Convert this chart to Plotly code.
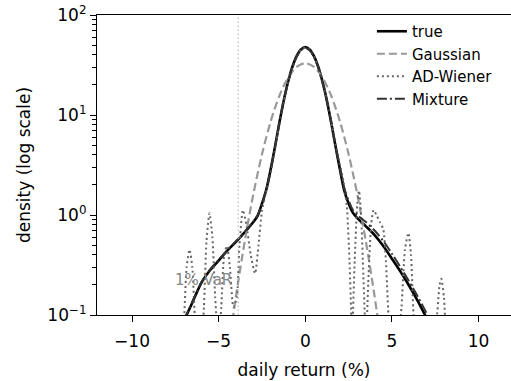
import plotly.graph_objects as go

# ---------------- data ----------------
X_GRID = [-7.5, -7, -6.5, -6, -5.5, -5, -4.5, -4, -3.5, -3, -2.75, -2.5, -2.25, -2,
          -1.75, -1.5, -1.25, -1, -0.75, -0.5, -0.25, 0, 0.25, 0.5, 0.75, 1, 1.25,
          1.5, 1.75, 2, 2.25, 2.5, 2.75, 3, 3.5, 4, 4.5, 5, 5.5, 6, 6.5, 7, 7.5]

TRUE_DENS = [0.06, 0.088, 0.135, 0.21, 0.28, 0.35, 0.44, 0.54, 0.67, 0.85, 0.98, 1.3,
             1.8, 2.85, 4.8, 8.3, 13.8, 21.3, 30.2, 38.8, 45.2, 47.8, 45.2, 38.8,
             30.2, 21.3, 13.8, 8.3, 4.8, 2.85, 1.75, 1.3, 1.05, 0.93, 0.77, 0.63,
             0.49, 0.365, 0.27, 0.195, 0.137, 0.093, 0.062]

MIX_DENS = [0.062, 0.09, 0.138, 0.212, 0.285, 0.355, 0.445, 0.545, 0.68, 0.86, 1.0,
            1.3, 1.8, 2.85, 4.8, 8.3, 13.7, 21.0, 29.8, 38.2, 44.3, 46.8, 44.3, 38.2,
            29.8, 21.0, 13.7, 8.3, 4.8, 2.9, 1.85, 1.4, 1.12, 1.0, 0.85, 0.7, 0.55,
            0.41, 0.3, 0.215, 0.152, 0.104, 0.07]

GAUSS_X = [-5, -4.5, -4, -3.5, -3, -2.5, -2, -1.5, -1, -0.5, 0,
           0.5, 1, 1.5, 2, 2.5, 3, 3.5, 4, 4.5, 5]
GAUSS_DENS = [0.0074, 0.0367, 0.153, 0.539, 1.61, 4.05, 8.61, 15.5, 23.6, 30.3, 33.0,
              30.3, 23.6, 15.5, 8.61, 4.05, 1.61, 0.539, 0.153, 0.0367, 0.0074]

ADW_X = [-8.5, -7.2, -7.0, -6.85, -6.68, -6.52, -6.38, -6.2, -6.0, -5.85, -5.7, -5.53,
         -5.36, -5.2, -5.0, -4.85, -4.68, -4.52, -4.35, -4.15, -3.95, -3.8, -3.6,
         -3.4, -3.15, -2.9, -2.7, -2.5, -2.3, -2.0, -1.75, -1.5, -1.25, -1.0, -0.75,
         -0.5, -0.25, 0, 0.25, 0.5, 0.75, 1.0, 1.25, 1.5, 1.75, 2.0, 2.2, 2.4, 2.55,
         2.7, 2.85, 3.0, 3.1, 3.22, 3.35, 3.5, 3.65, 3.8, 3.94, 4.1, 4.3, 4.5, 4.65,
         4.8, 5.0, 5.3, 5.55, 5.75, 5.95, 6.1, 6.25, 6.5, 7.2, 7.55, 7.75, 7.85, 8.0,
         8.15, 8.5]
ADW_DENS = [0.04, 0.04, 0.09, 0.3, 0.45, 0.3, 0.1, 0.04, 0.05, 0.12, 0.55, 1.04,
            0.6, 0.15, 0.05, 0.12, 0.4, 0.49, 0.3, 0.12, 0.15, 0.5, 1.12,
            0.8, 0.4, 0.26, 0.5, 1.1, 1.6, 2.6, 4.6, 8.0, 13.5, 21.0, 30.0,
            38.5, 45.0, 47.0, 45.0, 38.5, 30.0, 21.0, 13.8, 8.5, 5.0, 3.2, 2.2, 1.2, 0.35,
            0.07, 0.35, 1.3, 1.75, 1.0, 0.25, 0.06, 0.25, 0.8, 1.12, 1.0, 0.85, 0.72, 0.35,
            0.1, 0.04, 0.05, 0.12, 0.45, 0.66, 0.4, 0.1, 0.04, 0.04, 0.08, 0.2, 0.23, 0.15,
            0.06, 0.04]

VAR_1PCT = -3.87
X_TICKS = [-10, -5, 0, 5, 10]
Y_TICKS = [0.1, 1, 10, 100]
Y_TICK_TEXT = ["10<sup>−1</sup>", "10<sup>0</sup>", "10<sup>1</sup>", "10<sup>2</sup>"]
Y_MINOR = [m * 10 ** k for k in (-1, 0, 1) for m in range(2, 10)]

FONT = "DejaVu Sans"

fig = go.Figure()
fig.add_trace(go.Scatter(x=X_GRID, y=TRUE_DENS, mode="lines", name="true",
                         line=dict(color="black", width=2.6, shape="spline", smoothing=0.8)))
fig.add_trace(go.Scatter(x=GAUSS_X, y=GAUSS_DENS, mode="lines", name="Gaussian",
                         line=dict(color="#999999", width=2.2, dash="8px,4px",
                                   shape="spline", smoothing=0.8)))
fig.add_trace(go.Scatter(x=ADW_X, y=ADW_DENS, mode="lines", name="AD-Wiener",
                         line=dict(color="#666666", width=2.0, dash="2px,3px",
                                   shape="spline", smoothing=0.6)))
fig.add_trace(go.Scatter(x=X_GRID, y=MIX_DENS, mode="lines", name="Mixture",
                         line=dict(color="#333333", width=2.0, dash="10px,3px,2px,3px",
                                   shape="spline", smoothing=0.8)))

fig.add_shape(type="line", xref="x", yref="paper", x0=VAR_1PCT, x1=VAR_1PCT, y0=0, y1=1,
              line=dict(color="#bbbbbb", width=1.2, dash="1.5px,2.5px"))
fig.add_annotation(x=VAR_1PCT - 0.25, y=-0.65, xref="x", yref="y", text="1% VaR",
                   showarrow=False, xanchor="right", yanchor="middle",
                   font=dict(family=FONT, size=15, color="#888888"))

fig.update_layout(
    width=511, height=381,
    margin=dict(l=97, r=0, t=15, b=66),
    paper_bgcolor="white", plot_bgcolor="white",
    font=dict(family=FONT, size=17, color="black"),
    showlegend=True,
    legend=dict(x=0.664, y=1.0, xanchor="left", yanchor="top",
                bgcolor="rgba(0,0,0,0)", borderwidth=0,
                font=dict(family=FONT, size=15, color="black"),
                tracegroupgap=0),
    xaxis=dict(range=[-12.02, 11.87], tickvals=X_TICKS, showgrid=False, zeroline=False,
               showline=True, linecolor="black", linewidth=1.2, mirror=True,
               ticks="outside", ticklen=6, tickwidth=1.2, tickcolor="black",
               ticklabelstandoff=4,
               title=dict(text="daily return (%)", font=dict(size=17), standoff=14),
               tickfont=dict(size=17)),
    yaxis=dict(type="log", range=[-1, 2], tickvals=Y_TICKS, ticktext=Y_TICK_TEXT,
               showgrid=False, zeroline=False, showline=True, linecolor="black",
               linewidth=1.2, ticks="outside", ticklen=6, tickwidth=1.2,
               tickcolor="black", tickfont=dict(size=17),
               minor=dict(tickvals=Y_MINOR, ticks="outside", ticklen=3.5,
                          tickwidth=1, tickcolor="black", showgrid=False),
               title=dict(text="density (log scale)", font=dict(size=17), standoff=12)),
)

fig.write_html("out.html")
